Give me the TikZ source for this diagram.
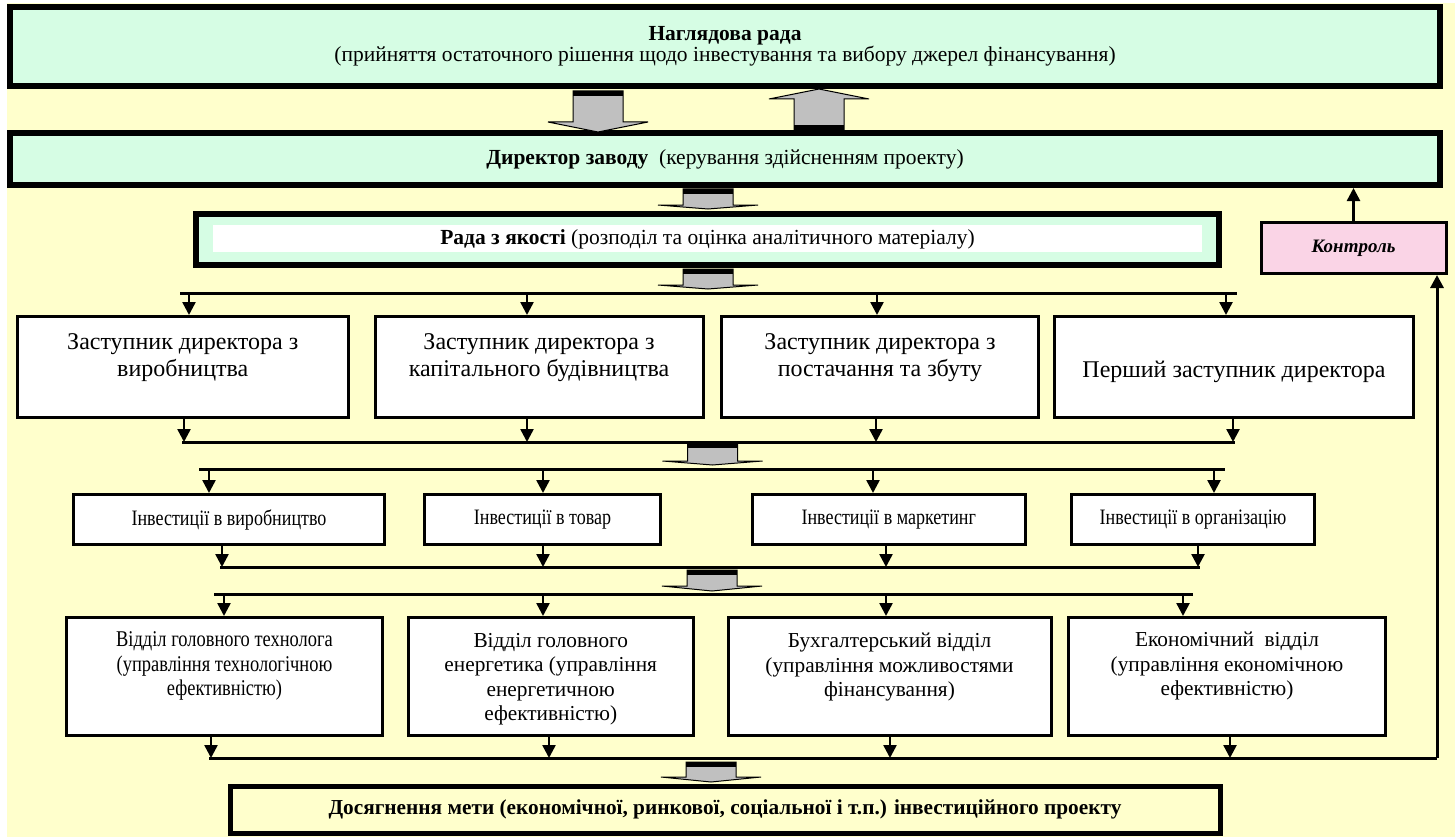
\documentclass[tikz,border=0pt]{standalone}
\usepackage{fontspec}
\setmainfont{Liberation Serif}
\newfontfamily\narrowfont[FakeStretch=0.82]{Liberation Serif}
\usetikzlibrary{arrows.meta}
\usetikzlibrary{calc}
\definecolor{bgyellow}{RGB}{255,255,204}
\definecolor{mint}{RGB}{214,253,228}
\definecolor{rose}{RGB}{250,212,230}
\definecolor{arrowgray}{RGB}{192,192,192}

% широка стрілка вниз: початок, вістря, висота голівки
\newcommand{\blockdown}[3]{%
  \filldraw[fill=arrowgray, draw=black, line width=1pt] ($(#1)+(-25,0)$) -- ($(#2)+(-25,-#3)$) -- ($(#2)+(-50,-#3)$) -- (#2) -- ($(#2)+(50,-#3)$) -- ($(#2)+(25,-#3)$) -- ($(#1)+(25,0)$) -- cycle;
  \fill[black] ($(#1)+(-25,0)$) rectangle ($(#1)+(25,5)$);}
% широка стрілка вгору
\newcommand{\blockup}[3]{%
  \filldraw[fill=arrowgray, draw=black, line width=1pt] ($(#1)+(-25,0)$) -- ($(#2)+(-25,#3)$) -- ($(#2)+(-50,#3)$) -- (#2) -- ($(#2)+(50,#3)$) -- ($(#2)+(25,#3)$) -- ($(#1)+(25,0)$) -- cycle;
  \fill[black] ($(#1)+(-25,0)$) rectangle ($(#1)+(25,-5)$);}

\begin{document}
\begin{tikzpicture}[x=1pt, y=-1pt,
		heavy/.style={draw, line width=6pt, fill=mint, inner sep=0pt},
		plain/.style={draw, line width=3pt, fill=white, inner sep=0pt},
		bus/.style={line width=3pt},
		conn/.style={line width=2.5pt, -{Triangle[width=13pt,length=13pt]}}]
				\useasboundingbox (0,0) rectangle (1455,837);
				\fill[white] (0,0) rectangle (1455,837);
				\fill[bgyellow] (7,3) rectangle (1455,837);
				% верхні блоки
				\node[heavy, minimum width=1430pt, minimum height=79pt, align=center, font=\fontsize{21.5}{21}\selectfont] (A) at (725,46.5){{\bfseries Наглядова рада}\\(прийняття остаточного рішення щодо інвестування та вибору джерел фінансування)};
				\node[heavy, minimum width=1430pt, minimum height=52pt, font=\fontsize{21.5}{22}\selectfont] (B) at (725,159){{\bfseries Директор заводу}\ \ (керування здійсненням проекту)};
				\node[heavy, minimum width=1023pt, minimum height=51pt] (R) at (707.5,239.5){};
				\fill[white] (213,225) rectangle (1202,252);
				\node[font=\fontsize{21.5}{22}\selectfont] (RT) at (R.center){{\bfseries Рада з якості} (розподіл та оцінка аналітичного матеріалу)};
				\node[draw, line width=3pt, fill=rose, inner sep=0pt, minimum width=185pt, minimum height=51pt, font=\fontsize{19}{20}\selectfont\bfseries\itshape] (K) at (1353.5,248){Контроль};
				% заступники
				\node[plain, minimum width=330.5pt, minimum height=101pt] (Z1) at (182.75,367){};
				\node[plain, minimum width=328pt, minimum height=101pt] (Z2) at (539,367){};
				\node[plain, minimum width=316.5pt, minimum height=101pt] (Z3) at (880,367){};
				\node[plain, minimum width=358.5pt, minimum height=101pt] (Z4) at (1234,367){};
				\node[align=center, font=\fontsize{24}{27}\selectfont] (Z1T) at (182.75,357.5){Заступник директора з\\виробництва};
				\node[align=center, font=\fontsize{24}{27}\selectfont] (Z2T) at (539,357.5){Заступник директора з\\капітального будівництва};
				\node[align=center, font=\fontsize{24}{27}\selectfont] (Z3T) at (880,357.5){Заступник директора з\\постачання та збуту};
				\node[font=\fontsize{24}{27}\selectfont] (Z4T) at (1234,372){Перший заступник директора};
				% інвестиції
				\node[plain, minimum width=311pt, minimum height=50pt, font=\fontsize{22}{24}\narrowfont] (I1) at (229,519.5){Інвестиції в виробництво};
				\node[plain, minimum width=236pt, minimum height=50pt, font=\fontsize{22}{24}\narrowfont] (I2) at (542.5,519.5){Інвестиції в товар};
				\node[plain, minimum width=273.5pt, minimum height=50pt, font=\fontsize{22}{24}\narrowfont] (I3) at (888.75,519.5){Інвестиції в маркетинг};
				\node[plain, minimum width=242.5pt, minimum height=50pt, font=\fontsize{22}{24}\narrowfont] (I4) at (1193,519.5){Інвестиції в організацію};
				% відділи
				\node[plain, minimum width=316pt, minimum height=118pt] (D1) at (224.5,676.5){};
				\node[plain, minimum width=284.5pt, minimum height=118pt] (D2) at (550.75,676.5){};
				\node[plain, minimum width=323pt, minimum height=118pt] (D3) at (889.5,676.5){};
				\node[plain, minimum width=316.5pt, minimum height=118pt] (D4) at (1227,676.5){};
				\node[align=center, font=\fontsize{22.5}{24.5}\narrowfont] (D1T) at (224.5,666){Відділ головного технолога\\(управління технологічною\\ефективністю)};
				\node[align=center, font=\fontsize{21.3}{24.5}\selectfont] (D2T) at (550.75,679){Відділ головного\\енергетика (управління\\енергетичною\\ефективністю)};
				\node[align=center, font=\fontsize{21.3}{24.5}\selectfont] (D3T) at (889.5,667){Бухгалтерський відділ\\(управління можливостями\\фінансування)};
				\node[align=center, font=\fontsize{21.3}{24.5}\selectfont] (D4T) at (1227,666){Економічний\ \ відділ\\(управління економічною\\ефективністю)};
				% результат
				\node[draw, line width=5pt, fill=bgyellow, inner sep=0pt, minimum width=990pt, minimum height=47pt, font=\fontsize{21.3}{22}\selectfont\bfseries] (M) at (725,809.5){Досягнення мети (економічної, ринкової, соціальної і т.п.) інвестиційного проекту};
				% широкі стрілки
				\coordinate (P1) at (598,91);  \coordinate (Q1) at (598,132);
				\coordinate (P2) at (819,130); \coordinate (Q2) at (819,89);
				\coordinate (P3) at (708,189); \coordinate (Q3) at (708,209);
				\coordinate (P4) at (708,269); \coordinate (Q4) at (708,289);
				\coordinate (P5) at (712.5,443); \coordinate (Q5) at (712.5,465);
				\coordinate (P6) at (712,570); \coordinate (Q6) at (712,591);
				\coordinate (P7) at (711,762); \coordinate (Q7) at (711,782);
				\blockdown{P1}{Q1}{10}
				\blockup{P2}{Q2}{10}
				\blockdown{P3}{Q3}{4}
				\blockdown{P4}{Q4}{4}
				\blockdown{P5}{Q5}{4}
				\blockdown{P6}{Q6}{5}
				\blockdown{P7}{Q7}{5}
				% шина 1
				\coordinate (S1) at (180,293); \coordinate (E1) at (1237,293);
				\coordinate (T1) at (189,293); \coordinate (T2) at (527,293); \coordinate (T3) at (877,293); \coordinate (T4) at (1226,293);
				\draw[bus] (S1) -- (E1);
				\draw[conn] (T1) -- (T1 |- Z1.north);
				\draw[conn] (T2) -- (T2 |- Z2.north);
				\draw[conn] (T3) -- (T3 |- Z3.north);
				\draw[conn] (T4) -- (T4 |- Z4.north);
				% шина 2
				\coordinate (S2) at (182,442); \coordinate (E2) at (1235,442);
				\coordinate (U1) at (184,442); \coordinate (U2) at (527,442); \coordinate (U3) at (876,442); \coordinate (U4) at (1233,442);
				\draw[bus] (S2) -- (E2);
				\draw[conn] (U1 |- Z1.south) -- (U1);
				\draw[conn] (U2 |- Z2.south) -- (U2);
				\draw[conn] (U3 |- Z3.south) -- (U3);
				\draw[conn] (U4 |- Z4.south) -- (U4);
				% шина 3
				\coordinate (S3) at (199,469); \coordinate (E3) at (1225,469);
				\coordinate (V1) at (209,469); \coordinate (V2) at (543,469); \coordinate (V3) at (873,469); \coordinate (V4) at (1214,469);
				\draw[bus] (S3) -- (E3);
				\draw[conn] (V1) -- (V1 |- I1.north);
				\draw[conn] (V2) -- (V2 |- I2.north);
				\draw[conn] (V3) -- (V3 |- I3.north);
				\draw[conn] (V4) -- (V4 |- I4.north);
				% шина 4
				\coordinate (S4) at (220,567); \coordinate (E4) at (1200,567);
				\coordinate (W1) at (222,567); \coordinate (W2) at (543,567); \coordinate (W3) at (886,567); \coordinate (W4) at (1198,567);
				\draw[bus] (S4) -- (E4);
				\draw[conn] (W1 |- I1.south) -- (W1);
				\draw[conn] (W2 |- I2.south) -- (W2);
				\draw[conn] (W3 |- I3.south) -- (W3);
				\draw[conn] (W4 |- I4.south) -- (W4);
				% шина 5
				\coordinate (S5) at (214,594); \coordinate (E5) at (1193,594);
				\coordinate (X1) at (224,594); \coordinate (X2) at (543,594); \coordinate (X3) at (886,594); \coordinate (X4) at (1183,594);
				\draw[bus] (S5) -- (E5);
				\draw[conn] (X1) -- (X1 |- D1.north);
				\draw[conn] (X2) -- (X2 |- D2.north);
				\draw[conn] (X3) -- (X3 |- D3.north);
				\draw[conn] (X4) -- (X4 |- D4.north);
				% шина 6 і контроль
				\coordinate (S6) at (209,758); \coordinate (E6) at (1437,758);
				\coordinate (Y1) at (211,758); \coordinate (Y2) at (549,758); \coordinate (Y3) at (890,758); \coordinate (Y4) at (1230,758);
				\draw[bus] (S6) -- (E6);
				\draw[conn] (Y1 |- D1.south) -- (Y1);
				\draw[conn] (Y2 |- D2.south) -- (Y2);
				\draw[conn] (Y3 |- D3.south) -- (Y3);
				\draw[conn] (Y4 |- D4.south) -- (Y4);
				\draw[conn, line width=3pt] (E6) -- (E6 |- K.south);
				\draw[conn] (K.north) -- (K.north |- B.south);
			\end{tikzpicture}
\end{document}
